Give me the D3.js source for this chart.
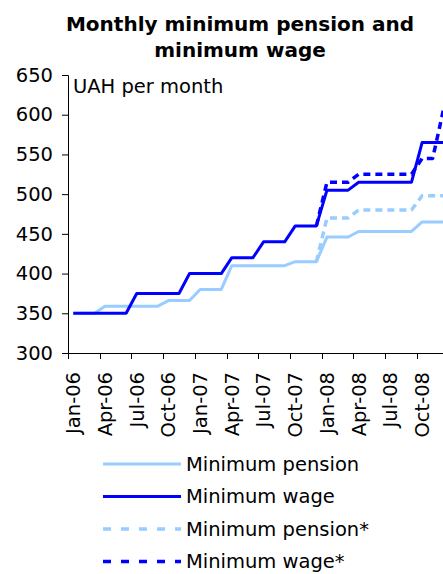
<!DOCTYPE html>
<html>
<head>
<meta charset="utf-8">
<script src="https://cdnjs.cloudflare.com/ajax/libs/d3/7.8.5/d3.min.js"></script>
<style>
  body { margin: 0; background: #fff; }
  svg { display: block; }
  text { font-family: "DejaVu Sans", Verdana, sans-serif; fill: #000; }
</style>
</head>
<body>
<svg width="443" height="574"></svg>
<script>
// months Jan-06 .. Dec-08
var months = ["Jan-06","Feb-06","Mar-06","Apr-06","May-06","Jun-06","Jul-06","Aug-06","Sep-06","Oct-06","Nov-06","Dec-06",
              "Jan-07","Feb-07","Mar-07","Apr-07","May-07","Jun-07","Jul-07","Aug-07","Sep-07","Oct-07","Nov-07","Dec-07",
              "Jan-08","Feb-08","Mar-08","Apr-08","May-08","Jun-08","Jul-08","Aug-08","Sep-08","Oct-08","Nov-08","Dec-08"];

var minPension = [350,350,350,359,359,359,359,359,359,366,366,366,
                  380,380,380,410,410,410,410,410,410,415,415,415,
                  446,446,446,453,453,453,453,453,453,465,465,465];

var minWage = [350,350,350,350,350,350,375,375,375,375,375,400,
               400,400,400,420,420,420,440,440,440,460,460,460,
               505,505,505,515,515,515,515,515,515,565,565,565];

var minPensionStar = [null,null,null,null,null,null,null,null,null,null,null,null,
                      null,null,null,null,null,null,null,null,null,null,null,415,
                      470,470,470,480,480,480,480,480,480,498,498,498];

var minWageStar = [null,null,null,null,null,null,null,null,null,null,null,null,
                   null,null,null,null,null,null,null,null,null,null,null,460,
                   515,515,515,525,525,525,525,525,525,545,545,605];

var yTicks = [300,350,400,450,500,550,600,650];
var xTickLabels = ["Jan-06","Apr-06","Jul-06","Oct-06","Jan-07","Apr-07","Jul-07","Oct-07","Jan-08","Apr-08","Jul-08","Oct-08"];

var series = [
  {name: "Minimum pension",  values: minPension,     color: "#99ccff", dash: null},
  {name: "Minimum wage",     values: minWage,        color: "#0000ff", dash: null},
  {name: "Minimum pension*", values: minPensionStar, color: "#99ccff", dash: "7,5"},
  {name: "Minimum wage*",    values: minWageStar,    color: "#0000ff", dash: "7,5"}
];

var svg = d3.select("svg");

var x = d3.scaleBand()
          .domain(months)
          .range([68, 68 + 36 * 10.57]);

var y = d3.scaleLinear()
          .domain([300, 650])
          .range([353, 75]);

// title
svg.append("text")
   .attr("x", 240).attr("y", 31)
   .attr("text-anchor", "middle")
   .style("font-weight", "bold").style("font-size", "20px")
   .text("Monthly minimum pension and");
svg.append("text")
   .attr("x", 240).attr("y", 57)
   .attr("text-anchor", "middle")
   .style("font-weight", "bold").style("font-size", "20px")
   .text("minimum wage");

// y axis
var yAxis = svg.append("g")
   .attr("transform", "translate(68,0)")
   .call(d3.axisLeft(y).tickValues(yTicks).tickSize(6).tickPadding(9).tickFormat(d3.format("d")));
yAxis.select(".domain").attr("stroke", "#000");
yAxis.selectAll("text").style("font-size", "19.5px").style("font-family", "DejaVu Sans, sans-serif");

svg.append("text")
   .attr("x", 73).attr("y", 93)
   .style("font-size", "19.5px")
   .text("UAH per month");

// x axis: ticks at category boundaries every 3 months
var xLine = svg.append("g");
xLine.append("line")
     .attr("x1", 68).attr("x2", 443)
     .attr("y1", 353.5).attr("y2", 353.5)
     .attr("stroke", "#000");
xLine.selectAll(".tick")
     .data(xTickLabels)
     .enter().append("line")
     .attr("x1", function(d) { return Math.round(x(d)) + 0.5; })
     .attr("x2", function(d) { return Math.round(x(d)) + 0.5; })
     .attr("y1", 353).attr("y2", 359)
     .attr("stroke", "#000");
xLine.selectAll(".lab")
     .data(xTickLabels)
     .enter().append("text")
     .attr("transform", function(d) {
        return "translate(" + (x(d) + x.bandwidth() / 2) + ",372) rotate(-90)";
     })
     .attr("dy", "0.35em")
     .attr("text-anchor", "end")
     .style("font-size", "19.5px")
     .text(function(d) { return d; });

// lines
var line = d3.line()
    .defined(function(d) { return d != null; })
    .x(function(d, i) { return x(months[i]) + x.bandwidth() / 2; })
    .y(function(d) { return y(d); });

svg.selectAll(".series")
   .data(series)
   .enter().append("path")
   .attr("class", "series")
   .attr("d", function(d) { return line(d.values); })
   .attr("fill", "none")
   .attr("stroke", function(d) { return d.color; })
   .attr("stroke-width", function(d) { return d.dash ? 3.5 : 3; })
   .attr("stroke-dasharray", function(d) { return d.dash; })
   .attr("stroke-linejoin", "round");

// legend
var legend = svg.selectAll(".legend")
   .data(series)
   .enter().append("g")
   .attr("transform", function(d, i) { return "translate(0," + (464 + i * 32.5) + ")"; });

legend.append("line")
   .attr("x1", 103).attr("x2", 181)
   .attr("stroke", function(d) { return d.color; })
   .attr("stroke-width", function(d) { return d.dash ? 3.5 : 3; })
   .attr("stroke-dasharray", function(d) { return d.dash ? "8,10" : null; });

legend.append("text")
   .attr("x", 186).attr("dy", "0.34em")
   .style("font-size", "19.5px")
   .text(function(d) { return d.name; });
</script>
</body>
</html>
